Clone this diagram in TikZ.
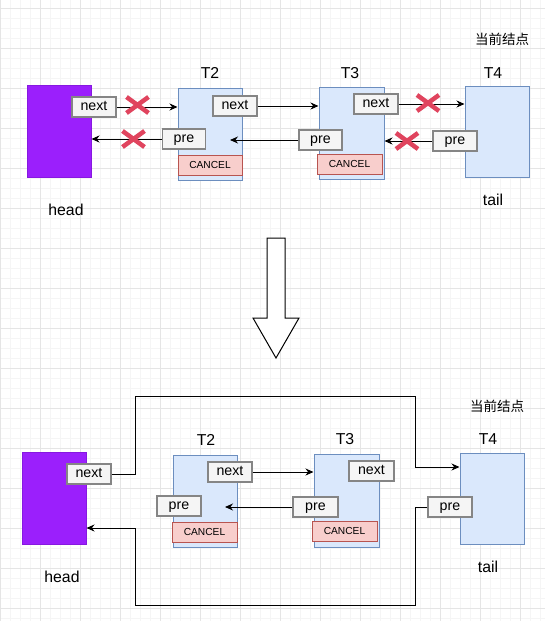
\documentclass[tikz,border=0pt]{standalone}
\usepackage{fontspec}
\setmainfont{Liberation Sans}
\newfontfamily\cjk{Noto Sans CJK SC}
\usetikzlibrary{arrows.meta}

\definecolor{headfill}{HTML}{9B1FFC}
\definecolor{headline}{HTML}{8718E0}
\definecolor{nodefill}{HTML}{DAE8FC}
\definecolor{nodeline}{HTML}{6C8EBF}
\definecolor{fieldfill}{HTML}{F5F5F5}
\definecolor{fieldline}{HTML}{858585}
\definecolor{cancelfill}{HTML}{F8CECC}
\definecolor{cancelline}{HTML}{B85450}
\definecolor{crosscol}{HTML}{E0445E}

\tikzset{
  headbox/.style={draw=headline, fill=headfill, line width=1pt, minimum width=64pt, minimum height=92pt, inner sep=0pt},
  listbox/.style={draw=nodeline, fill=nodefill, line width=1pt, minimum width=64pt, minimum height=92pt, inner sep=0pt},
  fieldbox/.style={draw=fieldline, fill=fieldfill, line width=1.5pt, minimum width=44pt, minimum height=20pt, inner sep=0pt,
    text height=9pt, text depth=2pt, font=\fontsize{14.2}{16}\selectfont},
  cancelbox/.style={draw=cancelline, fill=cancelfill, line width=1pt, minimum width=64pt, minimum height=20pt, inner sep=0pt, font=\fontsize{10.2}{12}\selectfont},
  lbl/.style={inner sep=0pt, font=\fontsize{15.8}{18}\selectfont},
  cnlbl/.style={inner sep=0pt, font=\cjk\fontsize{13.5}{15}\selectfont},
  link/.style={line width=1pt, -{Stealth[length=8pt,width=7pt]}},
  cross/.style={crosscol, line width=4.5pt},
  minorgrid/.style={color=black!4, line width=0.8pt},
  majorgrid/.style={color=black!10, line width=0.8pt}
}

\newcommand{\redcross}[2]{%
  \draw[cross] (#1-11,#2-8) -- (#1+11,#2+8);
  \draw[cross] (#1-11,#2+8) -- (#1+11,#2-8);}

\begin{document}
\begin{tikzpicture}[x=1pt, y=-1pt]
 \useasboundingbox (0,0) rectangle (545,621);
 \fill[white] (0,0) rectangle (545,621);
 % background grid
 \foreach \gx in {0,10,...,540} \draw[minorgrid] (\gx,0) -- (\gx,621);
 \foreach \gy in {8,18,...,618} \draw[minorgrid] (0,\gy) -- (545,\gy);
 \foreach \gx in {0,40,...,520} \draw[majorgrid] (\gx,0) -- (\gx,621);
 \foreach \gy in {8,48,...,608} \draw[majorgrid] (0,\gy) -- (545,\gy);

 % before
 \node[cnlbl] (cur1) at (502,39) {当前结点};
 \node[headbox] (head1) at (59,131) {};
 \node[fieldbox] (headnext1) at (94,107) {next};
 \node[lbl] (headlbl1) at (66,210) {head};

 \node[listbox] (t2box1) at (210,134) {};
 \node[lbl] (t2lbl1) at (210,73) {T2};
 \node[fieldbox] (t2next1) at (235,106) {next};
 \node[fieldbox, minimum width=43pt] (t2pre1) at (184,139) {pre};
 \node[cancelbox] (t2cancel1) at (210,165) {CANCEL};

 \node[listbox, minimum width=65pt] (t3box1) at (351.5,133) {};
 \node[lbl] (t3lbl1) at (350,73) {T3};
 \node[fieldbox] (t3next1) at (376,104) {next};
 \node[fieldbox, minimum width=43pt] (t3pre1) at (320.5,140) {pre};
 \node[cancelbox, minimum width=65pt] (t3cancel1) at (349.5,164) {CANCEL};

 \node[listbox, minimum height=91pt] (t4box1) at (497,131.5) {};
 \node[lbl] (t4lbl1) at (493,73) {T4};
 \node[fieldbox] (t4pre1) at (455,141) {pre};
 \node[lbl] (tail1) at (493,200) {tail};

 \coordinate (t2in1) at (230,140);
 \draw[link] (headnext1.east) -- (headnext1.east -| t2box1.west);
 \draw[link] (t2pre1.west) -- (t2pre1.west -| head1.east);
 \draw[link] (t2next1.east) -- (t2next1.east -| t3box1.west);
 \draw[link] (t3pre1.west) -- (t2in1);
 \draw[link] (t3next1.east) -- (t3next1.east -| t4box1.west);
 \draw[link] (t4pre1.west) -- (t4pre1.west -| t3box1.east);
 \redcross{137.5}{105}
 \redcross{133.5}{139}
 \redcross{428}{103}
 \redcross{407}{141}

 % big arrow
 \draw[line width=1pt, fill=white] (267,238) -- (285,238) -- (285,318) -- (299,318)
   -- (276,358) -- (253,318) -- (267,318) -- cycle;

 % after
 \node[cnlbl] (cur2) at (497,406) {当前结点};
 \node[headbox] (head2) at (54,498) {};
 \node[fieldbox] (headnext2) at (89,474) {next};
 \node[lbl] (headlbl2) at (62,577) {head};

 \node[listbox] (t2box2) at (205,501) {};
 \node[lbl] (t2lbl2) at (206,440) {T2};
 \node[fieldbox] (t2next2) at (230,472) {next};
 \node[fieldbox] (t2pre2) at (179,506) {pre};
 \node[cancelbox, minimum width=65pt] (t2cancel2) at (204.5,532) {CANCEL};

 \node[listbox, minimum width=65pt, minimum height=93pt] (t3box2) at (346.5,500.5) {};
 \node[lbl] (t3lbl2) at (345,439) {T3};
 \node[fieldbox, minimum width=45pt] (t3next2) at (371.5,471) {next};
 \node[fieldbox, minimum width=45pt] (t3pre2) at (315.5,507) {pre};
 \node[cancelbox, minimum width=65pt] (t3cancel2) at (344.5,531) {CANCEL};

 \node[listbox, minimum height=91pt] (t4box2) at (492,498.5) {};
 \node[lbl] (t4lbl2) at (488,439) {T4};
 \node[fieldbox] (t4pre2) at (450,507) {pre};
 \node[lbl] (tail2) at (488,567) {tail};

 \coordinate (t2in2) at (225,507);
 \draw[link] (t2next2.east) -- (t2next2.east -| t3box2.west);
 \draw[link] (t3pre2.west) -- (t2in2);
 \draw[link] (headnext2.east) -- (135,474) -- (135,396) -- (415,396) -- (415,467)
   -- (t4box2.west |- 415,467);
 \draw[link] (t4pre2.west) -- (415,507) -- (415,605) -- (135,605) -- (135,528)
   -- (head2.east |- 135,528);
\end{tikzpicture}
\end{document}
